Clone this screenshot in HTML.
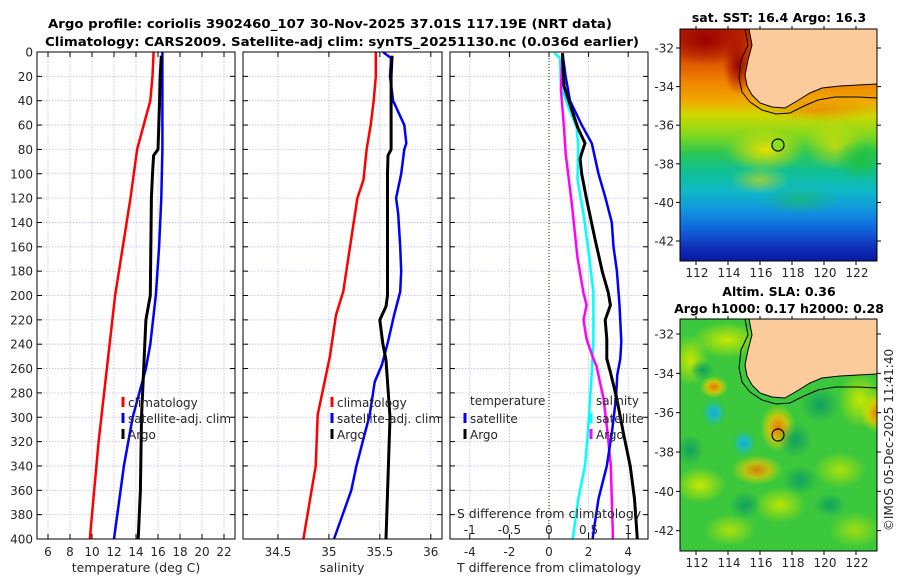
<!DOCTYPE html>
<html><head><meta charset="utf-8">
<style>
html,body{margin:0;padding:0;background:#fff;}
svg{display:block;font-family:"DejaVu Sans","Liberation Sans",sans-serif;}
</style></head>
<body>
<svg id="fig" width="900" height="580" viewBox="0 0 900 580" xmlns="http://www.w3.org/2000/svg">
<defs>
  <linearGradient id="sstGrad" x1="0" y1="0" x2="0" y2="1">
    <stop offset="0" stop-color="#b82000"/>
    <stop offset="0.13" stop-color="#d85000"/>
    <stop offset="0.22" stop-color="#f08000"/>
    <stop offset="0.31" stop-color="#f0a800"/>
    <stop offset="0.37" stop-color="#d0d800"/>
    <stop offset="0.46" stop-color="#80d820"/>
    <stop offset="0.53" stop-color="#30c850"/>
    <stop offset="0.61" stop-color="#10c090"/>
    <stop offset="0.70" stop-color="#10b8c8"/>
    <stop offset="0.79" stop-color="#1090e0"/>
    <stop offset="0.87" stop-color="#1060d8"/>
    <stop offset="0.94" stop-color="#1030b8"/>
    <stop offset="1" stop-color="#0818a0"/>
  </linearGradient>
  <radialGradient id="blobDR"><stop offset="0" stop-color="#9a0000"/><stop offset="1" stop-color="#9a0000" stop-opacity="0"/></radialGradient>
  <radialGradient id="blobY"><stop offset="0" stop-color="#e8e000"/><stop offset="1" stop-color="#e8e000" stop-opacity="0"/></radialGradient>
  <radialGradient id="blobG"><stop offset="0" stop-color="#20c040"/><stop offset="1" stop-color="#20c040" stop-opacity="0"/></radialGradient>
  <radialGradient id="blobOr"><stop offset="0" stop-color="#f07000"/><stop offset="1" stop-color="#f07000" stop-opacity="0"/></radialGradient>
  <radialGradient id="blobO"><stop offset="0" stop-color="#f07000"/><stop offset="0.5" stop-color="#f0c000" stop-opacity="0.8"/><stop offset="1" stop-color="#d0e000" stop-opacity="0"/></radialGradient>
  <radialGradient id="blobYel"><stop offset="0" stop-color="#c8e800"/><stop offset="1" stop-color="#c8e800" stop-opacity="0"/></radialGradient>
  <radialGradient id="blobCy"><stop offset="0" stop-color="#10a8f0"/><stop offset="0.5" stop-color="#20c0b0" stop-opacity="0.8"/><stop offset="1" stop-color="#20c060" stop-opacity="0"/></radialGradient>
  <radialGradient id="blobDG"><stop offset="0" stop-color="#10a060"/><stop offset="1" stop-color="#10a060" stop-opacity="0"/></radialGradient>
  <clipPath id="clipTop"><rect x="680" y="29" width="197" height="232"/></clipPath>
  <clipPath id="clipBot"><rect x="680" y="319" width="197" height="232"/></clipPath>
</defs>

<text x="330" y="28" text-anchor="middle" font-weight="bold" font-size="12.5" textLength="564" lengthAdjust="spacingAndGlyphs" fill="#000">Argo profile: coriolis 3902460_107 30-Nov-2025 37.01S 117.19E (NRT data)</text>
<text x="342" y="46" text-anchor="middle" font-weight="bold" font-size="12.5" textLength="594" lengthAdjust="spacingAndGlyphs" fill="#000">Climatology: CARS2009. Satellite-adj clim: synTS_20251130.nc (0.036d earlier)</text>

<g id="panels"></g>

<!-- Top map: SST -->
<g>
  <g clip-path="url(#clipTop)">
    <rect x="680" y="29" width="197" height="232" fill="url(#sstGrad)"/>
    <ellipse cx="705" cy="40" rx="45" ry="25" fill="url(#blobDR)"/>
    <ellipse cx="738" cy="65" rx="15" ry="30" fill="url(#blobDR)"/>
    <ellipse cx="820" cy="110" rx="60" ry="12" fill="url(#blobOr)" opacity="0.6"/>
    <ellipse cx="765" cy="150" rx="40" ry="22" fill="url(#blobY)"/>
    <ellipse cx="835" cy="145" rx="30" ry="25" fill="url(#blobY)" opacity="0.7"/>
    <ellipse cx="760" cy="180" rx="30" ry="14" fill="url(#blobY)" opacity="0.6"/>
    <ellipse cx="860" cy="160" rx="25" ry="20" fill="url(#blobG)"/>
    <ellipse cx="800" cy="200" rx="40" ry="15" fill="url(#blobG)" opacity="0.5"/>
    <polygon points="749,29 752,45 748,60 745,75 747,86 752,95 760,103 772,107 785,108 797,101 810,93 822,88 840,86 858,85 877,84 877,29" fill="#fbcb9c"/>
    <polyline points="749,29 752,45 748,60 745,75 747,86 752,95 760,103 772,107 785,108 797,101 810,93 822,88 840,86 858,85 877,84" fill="none" stroke="#000" stroke-width="1"/>
    <polyline points="745,29 748,45 741,60 739,78 742,92 750,102 762,110 776,114 790,113 804,106 818,100 835,97 858,97 877,98" fill="none" stroke="#000" stroke-width="1"/>
    <circle cx="778" cy="145" r="6" fill="#86e01c" stroke="#000" stroke-width="1.2"/>
  </g>
  <rect x="680" y="29" width="197" height="232" fill="none" stroke="#000" stroke-width="1"/>
</g>
<text x="779" y="22" text-anchor="middle" font-weight="bold" font-size="12.5" fill="#000">sat. SST: 16.4 Argo: 16.3</text>

<!-- Bottom map: SLA -->
<g>
  <g clip-path="url(#clipBot)">
    <rect x="680" y="319" width="197" height="232" fill="#3cc83c"/>
    <ellipse cx="727" cy="340" rx="35" ry="18" fill="url(#blobYel)"/>
    <ellipse cx="690" cy="360" rx="18" ry="25" fill="url(#blobYel)"/>
    <ellipse cx="702" cy="370" rx="12" ry="10" fill="url(#blobDG)"/>
    <ellipse cx="714" cy="387" rx="14" ry="11" fill="url(#blobO)"/>
    <ellipse cx="714" cy="413" rx="13" ry="15" fill="url(#blobCy)"/>
    <ellipse cx="744" cy="443" rx="13" ry="14" fill="url(#blobCy)"/>
    <ellipse cx="778" cy="428" rx="18" ry="24" fill="url(#blobO)"/>
    <ellipse cx="757" cy="470" rx="26" ry="15" fill="url(#blobO)" opacity="0.85"/>
    <ellipse cx="875" cy="412" rx="15" ry="20" fill="url(#blobO)"/>
    <ellipse cx="860" cy="400" rx="22" ry="28" fill="url(#blobYel)"/>
    <ellipse cx="795" cy="440" rx="18" ry="18" fill="url(#blobDG)"/>
    <ellipse cx="820" cy="405" rx="20" ry="18" fill="url(#blobDG)"/>
    <ellipse cx="800" cy="480" rx="18" ry="14" fill="url(#blobDG)"/>
    <ellipse cx="700" cy="485" rx="26" ry="18" fill="url(#blobYel)"/>
    <ellipse cx="780" cy="505" rx="26" ry="18" fill="url(#blobYel)" opacity="0.9"/>
    <ellipse cx="840" cy="470" rx="26" ry="18" fill="url(#blobYel)" opacity="0.8"/>
    <ellipse cx="730" cy="530" rx="26" ry="16" fill="url(#blobYel)" opacity="0.8"/>
    <ellipse cx="855" cy="530" rx="26" ry="18" fill="url(#blobYel)" opacity="0.7"/>
    <ellipse cx="745" cy="505" rx="16" ry="14" fill="url(#blobDG)"/>
    <ellipse cx="690" cy="450" rx="14" ry="16" fill="url(#blobDG)"/>
    <ellipse cx="830" cy="505" rx="16" ry="12" fill="url(#blobDG)"/>
    <polygon points="749,319 752,335 748,350 745,365 747,376 752,385 760,393 772,397 785,398 797,391 810,383 822,378 840,376 858,375 877,374 877,319" fill="#fbcb9c"/>
    <polyline points="749,319 752,335 748,350 745,365 747,376 752,385 760,393 772,397 785,398 797,391 810,383 822,378 840,376 858,375 877,374" fill="none" stroke="#000" stroke-width="1"/>
    <polyline points="745,319 748,335 741,350 739,368 742,382 750,392 762,400 776,404 790,403 804,396 818,390 835,387 858,387 877,388" fill="none" stroke="#000" stroke-width="1"/>
    <circle cx="778" cy="435" r="6" fill="none" stroke="#000" stroke-width="1.2"/>
  </g>
  <rect x="680" y="319" width="197" height="232" fill="none" stroke="#000" stroke-width="1"/>
</g>
<text x="779" y="296" text-anchor="middle" font-weight="bold" font-size="12.5" fill="#000">Altim. SLA: 0.36</text>
<text x="779" y="313" text-anchor="middle" font-weight="bold" font-size="12.5" fill="#000">Argo h1000: 0.17 h2000: 0.28</text>
<g id="mapaxes"></g>
<text transform="translate(893,440) rotate(-90)" text-anchor="middle" font-size="12" fill="#262626">©IMOS 05-Dec-2025 11:41:40</text>
</svg>

<script>
// ---- data ----
const depthTicks = [0,20,40,60,80,100,120,140,160,180,200,220,240,260,280,300,320,340,360,380,400];
const tempTicks = [6,8,10,12,14,16,18,20,22];
const salTicks = [34.5,35,35.5,36];
const salTickLabels = ["34.5","35","35.5","36"];
const tdiffTicks = [-4,-2,0,2,4];
const sdiffTicks = [-1,-0.5,0,0.5,1];
const sdiffTickLabels = ["-1","-0.5","0","0.5","1"];

const tClimDepth = [0,20,40,60,80,100,120,160,200,240,280,320,360,400];
const tClimVals  = [15.6,15.5,15.3,14.7,14.1,13.8,13.5,12.8,12.1,11.6,11.1,10.6,10.2,9.8];
const tSatDepth = [0,40,80,120,160,200,240,260,280,300,340,380,400];
const tSatVals  = [16.4,16.4,16.4,16.3,16.1,15.8,15.3,14.9,14.3,13.7,12.9,12.3,12.0];
const tArgoDepth = [3,20,40,80,85,100,120,200,210,220,240,300,360,400];
const tArgoVals  = [16.3,16.2,16.15,16.0,15.6,15.5,15.4,15.3,15.1,14.9,14.8,14.5,14.4,14.2];

const sClimDepth = [0,20,40,60,80,105,120,197,216,250,298,340,400];
const sClimVals  = [35.46,35.46,35.44,35.41,35.37,35.34,35.28,35.14,35.07,35.01,34.89,34.87,34.75];
const sSatDepth = [0,5,20,40,60,75,80,100,120,133,160,180,197,216,238,257,271,282,298,340,360,400];
const sSatVals  = [35.53,35.61,35.60,35.63,35.74,35.76,35.74,35.71,35.66,35.68,35.70,35.71,35.70,35.64,35.58,35.52,35.45,35.43,35.40,35.27,35.22,35.05];
const sArgoDepth = [3,20,80,85,100,200,209,220,240,253,300,400];
const sArgoVals  = [35.62,35.61,35.61,35.58,35.575,35.575,35.56,35.50,35.53,35.56,35.60,35.56];

const dTSatDepth = [1,20,40,60,75,100,119,140,160,180,208,238,252,265,285,313,340,367,395,400];
const dTSatVals  = [0.68,0.84,1.06,1.65,2.16,2.5,2.84,3.17,3.26,3.43,3.56,3.65,3.6,3.45,3.38,3.17,2.92,2.5,2.24,2.2];
const dTArgoDepth = [1,28,45,62,75,83,88,100,121,154,181,198,208,220,236,252,263,285,313,340,367,395,400];
const dTArgoVals  = [0.68,0.76,1.1,1.45,1.82,1.65,1.57,1.65,1.9,2.33,2.7,3.0,3.1,2.84,2.92,2.92,3.1,3.43,3.76,4.1,4.32,4.44,4.46];
const dSSatDepth = [1,5,28,45,62,78,105,133,169,198,236,263,313,340,367,395,400];
const dSSatVals  = [0.07,0.14,0.15,0.245,0.35,0.37,0.36,0.435,0.51,0.56,0.56,0.54,0.49,0.455,0.37,0.31,0.30];
const dSArgoDepth = [1,31,62,83,126,169,198,208,220,236,252,258,285,313,340,395,400];
const dSArgoVals  = [0.17,0.15,0.19,0.21,0.29,0.36,0.435,0.475,0.435,0.475,0.56,0.60,0.69,0.74,0.78,0.805,0.805];

// ---- helpers ----
const NS = "http://www.w3.org/2000/svg";
const root = document.getElementById('panels');
function mk(tag, attrs, parent){ const e=document.createElementNS(NS,tag); for(const k in attrs) e.setAttribute(k,attrs[k]); (parent||root).appendChild(e); return e; }
const Y0=52, Y1=539;
function yScale(d){ return Y0 + (d/400)*(Y1-Y0); }
function xScaleFor(p){ return v => p.x0 + (v-p.d0)/(p.d1-p.d0)*(p.x1-p.x0); }

const P1={x0:37,x1:235,d0:5,d1:23};
const P2={x0:243,x1:442,d0:34.157,d1:36.11};
const P3={x0:450,x1:648,d0:-5,d1:5};
const xs1=xScaleFor(P1), xs2=xScaleFor(P2), xs3=xScaleFor(P3);
const xsS = v => xs3(v*4);

function frame(p, xs, ticks, labels, name){
  const g=mk('g',{});
  
  
  ticks.forEach(t=>{
    const x=xs(t);
    const gl=mk('line',{x1:x,x2:x,y1:Y0,y2:Y1,stroke:'#b8bfe0','stroke-width':0.8,'stroke-dasharray':'1.5,1.5'},g);
    
    
    mk('line',{x1:x,x2:x,y1:Y1,y2:Y1-5,stroke:'#000','stroke-width':1},g);
    mk('line',{x1:x,x2:x,y1:Y0,y2:Y0+5,stroke:'#000','stroke-width':1},g);
    if(labels){
      const tl=mk('text',{x:x,y:556,'text-anchor':'middle','font-size':12,fill:'#262626'},g);
      
      
      tl.textContent = labels===true ? String(t) : labels[ticks.indexOf(t)];
    }
  });
  depthTicks.forEach(d=>{
    const y=yScale(d);
    if(d>0 && d<400){
      const gl=mk('line',{x1:p.x0,x2:p.x1,y1:y,y2:y,stroke:'#b8bfe0','stroke-width':0.8,'stroke-dasharray':'1.5,1.5'},g);
      
      
    }
    mk('line',{x1:p.x0,x2:p.x0+5,y1:y,y2:y,stroke:'#000','stroke-width':1},g);
    mk('line',{x1:p.x1,x2:p.x1-5,y1:y,y2:y,stroke:'#000','stroke-width':1},g);
  });
  return g;
}
function line(xs, depths, vals, color, w, name){
  const pts = depths.map((d,i)=> xs(vals[i]).toFixed(1)+','+yScale(d).toFixed(1)).join(' ');
  const pl = mk('polyline',{points:pts,fill:'none',stroke:color,'stroke-width':w,'stroke-linejoin':'round'});
  
  
}
function border(p){
  const r=mk('rect',{x:p.x0,y:Y0,width:p.x1-p.x0,height:Y1-Y0,fill:'none',stroke:'#000','stroke-width':1});
  
  
}
function txt(x,y,s,name,anchor,size){
  const t=mk('text',{x:x,y:y,'text-anchor':anchor||'start','font-size':size||12,fill:'#262626'});
  
  
  t.textContent=s; return t;
}
function legendEntry(x,y,color,label,name){
  const m=mk('rect',{x:x-1.5,y:y-10,width:3,height:10,fill:color});
  
  
  txt(x+5,y,label,name);
}

// Panel 1
frame(P1, xs1, tempTicks, true, 'temperature-axes');
depthTicks.forEach(d=>{ txt(33, yScale(d)+4.5, String(d), 'y-tick-label', 'end'); });
line(xs1, tClimDepth, tClimVals, '#ff0000', 2.5, 'temp-climatology-line');
line(xs1, tSatDepth, tSatVals, '#0000ff', 2.5, 'temp-satellite-adj-line');
line(xs1, tArgoDepth, tArgoVals, '#000000', 3, 'temp-argo-line');
border(P1);
legendEntry(123,407,'#ff0000','climatology','legend-climatology');
legendEntry(123,423,'#0000ff','satellite-adj. clim','legend-satellite-adj');
legendEntry(123,439,'#000000','Argo','legend-argo');
txt(136, 572, 'temperature (deg C)', 'x-axis-title-temperature', 'middle', 12.5);

// Panel 2
frame(P2, xs2, salTicks, salTickLabels, 'salinity-axes');
line(xs2, sClimDepth, sClimVals, '#ff0000', 2.5, 'sal-climatology-line');
line(xs2, sSatDepth, sSatVals, '#0000ff', 2.5, 'sal-satellite-adj-line');
line(xs2, sArgoDepth, sArgoVals, '#000000', 3, 'sal-argo-line');
border(P2);
legendEntry(332,407,'#ff0000','climatology','legend-sal-climatology');
legendEntry(332,423,'#0000ff','satellite-adj. clim','legend-sal-satellite-adj');
legendEntry(332,439,'#000000','Argo','legend-sal-argo');
txt(342, 572, 'salinity', 'x-axis-title-salinity', 'middle', 12.5);

// Panel 3
frame(P3, xs3, tdiffTicks, true, 'difference-axes');
const zl=mk('line',{x1:xs3(0),x2:xs3(0),y1:Y0,y2:Y1,stroke:'#4a5a20','stroke-width':1.3,'stroke-dasharray':'1,2'});


line(xsS, dSSatDepth, dSSatVals, '#00ffff', 2.5, 'sal-diff-satellite-line');
line(xsS, dSArgoDepth, dSArgoVals, '#ff00ff', 2.5, 'sal-diff-argo-line');
line(xs3, dTSatDepth, dTSatVals, '#0000ff', 2.5, 'temp-diff-satellite-line');
line(xs3, dTArgoDepth, dTArgoVals, '#000000', 3, 'temp-diff-argo-line');
border(P3);
sdiffTicks.forEach((t,i)=>{ txt(xsS(t), 534, sdiffTickLabels[i], 's-diff-tick-label', 'middle'); });
txt(549, 518, 'S difference from climatology', 's-diff-axis-title', 'middle', 12.5);
txt(470, 405, 'temperature', 'legend-temperature-header');
legendEntry(465,423,'#0000ff','satellite','legend-temp-satellite');
legendEntry(465,439,'#000000','Argo','legend-temp-argo');
txt(596, 405, 'salinity', 'legend-salinity-header');
legendEntry(591,423,'#00ffff','satellite','legend-sal-diff-satellite');
legendEntry(591,439,'#ff00ff','Argo','legend-sal-diff-argo');
txt(549, 572, 'T difference from climatology', 'x-axis-title-tdiff', 'middle', 12.5);

// Map axes
const mapG=document.getElementById('mapaxes');
const lonTicks=[112,114,116,118,120,122];
const latTicks=[-32,-34,-36,-38,-40,-42];
function mapAxes(top, bottom, latY, prefix){
  lonTicks.forEach(l=>{
    const x=680+(l-111)*16;
    mk('line',{x1:x,x2:x,y1:bottom,y2:bottom+4,stroke:'#000','stroke-width':1},mapG);
    mk('line',{x1:x,x2:x,y1:top,y2:top-3,stroke:'#000','stroke-width':1},mapG);
    const t=mk('text',{x:x+1,y:bottom+16,'text-anchor':'middle','font-size':12,fill:'#262626'},mapG);
    
    
    t.textContent=String(l);
  });
  latTicks.forEach(l=>{
    const y=latY(l);
    mk('line',{x1:680,x2:676,y1:y,y2:y,stroke:'#000','stroke-width':1},mapG);
    mk('line',{x1:877,x2:881,y1:y,y2:y,stroke:'#000','stroke-width':1},mapG);
    const t=mk('text',{x:674,y:y+4.5,'text-anchor':'end','font-size':12,fill:'#262626'},mapG);
    
    
    t.textContent=String(l);
  });
}
mapAxes(29, 261, l=>48+(-32-l)*19.3, 'sst-map');
mapAxes(319, 551, l=>334+(-32-l)*19.67, 'sla-map');
</script>
</body></html>
